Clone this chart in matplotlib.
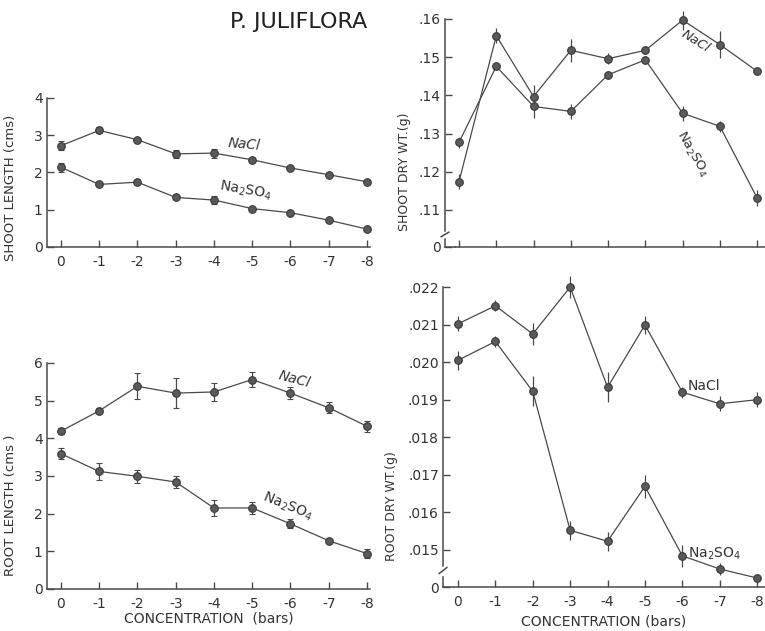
import matplotlib
matplotlib.use('Agg')
import matplotlib.pyplot as plt

# concentration (bars) - plotted at positions 0..8
conc_labels = ['0', '-1', '-2', '-3', '-4', '-5', '-6', '-7', '-8']

# shoot length (cms)
shoot_len_nacl = [2.72, 3.13, 2.88, 2.50, 2.52, 2.34, 2.12, 1.94, 1.75]
shoot_len_nacl_err = [0.12, 0.08, 0.03, 0.10, 0.12, 0.04, 0.03, 0.03, 0.03]
shoot_len_na2so4 = [2.14, 1.68, 1.74, 1.33, 1.26, 1.03, 0.92, 0.72, 0.48]
shoot_len_na2so4_err = [0.12, 0.03, 0.03, 0.04, 0.10, 0.03, 0.03, 0.03, 0.03]

# root length (cms)
root_len_nacl = [4.19, 4.73, 5.38, 5.20, 5.23, 5.56, 5.20, 4.81, 4.32]
root_len_nacl_err = [0.08, 0.07, 0.35, 0.40, 0.25, 0.20, 0.15, 0.15, 0.15]
root_len_na2so4 = [3.59, 3.12, 2.99, 2.84, 2.15, 2.15, 1.73, 1.28, 0.94]
root_len_na2so4_err = [0.15, 0.22, 0.18, 0.15, 0.20, 0.15, 0.12, 0.05, 0.12]

# shoot dry weight (g)
shoot_wt_nacl = [.1174, .1556, .1397, .1518, .1496, .1518, .1597, .1533, .1463]
shoot_wt_nacl_err = [.0020, .0020, .0030, .0030, .0015, .0010, .0025, .0035, .0010]
shoot_wt_na2so4 = [.1277, .1476, .1371, .1358, .1454, .1493, .1353, .1319, .1131]
shoot_wt_na2so4_err = [.0015, .0010, .0030, .0020, .0010, .0010, .0020, .0015, .0020]

# root dry weight (g)
root_wt_nacl = [.02102, .02150, .02075, .02200, .01933, .02099, .01920, .01889, .01900]
root_wt_nacl_err = [.00020, .00015, .00030, .00030, .00040, .00025, .00015, .00020, .00020]
root_wt_na2so4 = [.02005, .02055, .01922, .01552, .01523, .01669, .01484, .01449, .01425]
root_wt_na2so4_err = [.00025, .00015, .00040, .00025, .00025, .00030, .00030, .00015, .00005]

ink = '#4a4a4a'
txt = '#333333'
x = list(range(len(conc_labels)))

plt.rcParams['font.family'] = 'DejaVu Sans'

fig = plt.figure(figsize=(7.65, 6.31), dpi=100)


def draw_series(ax, y, err, caps):
    ax.errorbar(x, y, yerr=err, color=ink, lw=0.9, elinewidth=0.9,
                capsize=2 if caps else 0, marker='o', ms=5.5,
                mfc='#5a5a5a', mec='#3a3a3a', mew=0.8, clip_on=False, zorder=3)


def style_axes(ax, xlim, ylim, yticks, yticklabels, show_xlabels, broken):
    ax.set_xlim(*xlim)
    ax.set_ylim(*ylim)
    ax.spines['top'].set_visible(False)
    ax.spines['right'].set_visible(False)
    for s in ('left', 'bottom'):
        ax.spines[s].set_color(ink)
        ax.spines[s].set_linewidth(1.1)
    ax.set_xticks(x)
    if show_xlabels:
        ax.set_xticklabels(conc_labels)
    else:
        ax.set_xticklabels([])
    ax.set_yticks(yticks)
    ax.set_yticklabels(yticklabels)
    ax.tick_params(direction='in', length=5, width=1, colors=ink,
                   labelcolor=txt, labelsize=10, pad=3)
    ax.tick_params(axis='x', pad=6)
    if broken:
        ax.spines['bottom'].set_bounds(-0.1, xlim[1])
        ax.spines['left'].set_bounds(ylim[0] + (ylim[1] - ylim[0]) * 0.07, ylim[1])
        # small break mark on the y axis
        ax.plot([0, 0.0], [0.0, 0.035], transform=ax.transAxes, color=ink,
                lw=1.1, clip_on=False)
        ax.plot([-0.012, 0.012], [0.045, 0.065], transform=ax.transAxes,
                color=ink, lw=1.1, clip_on=False)
        ax.plot([0, 0.03], [0.0, 0.0], transform=ax.transAxes, color=ink,
                lw=1.1, clip_on=False)


# shoot length
ax1 = fig.add_axes([0.0614, 0.6086, 0.4222, 0.2361])
draw_series(ax1, shoot_len_nacl, shoot_len_nacl_err, True)
draw_series(ax1, shoot_len_na2so4, shoot_len_na2so4_err, True)
style_axes(ax1, (-0.366, 8.078), (0, 4), [0, 1, 2, 3, 4],
           ['0', '1', '2', '3', '4'], True, False)
ax1.set_ylabel('SHOOT LENGTH (cms)', color=txt, fontsize=9.5)
ax1.yaxis.set_label_coords(-0.092, 0.40)
ax1.text(4.35, 2.62, 'NaCl', color=txt, fontsize=10, style='italic',
         rotation=-5)
ax1.text(4.1, 1.30, r'Na$_2$SO$_4$', color=txt, fontsize=10, rotation=-10)

# root length
ax2 = fig.add_axes([0.0614, 0.0666, 0.4222, 0.3582])
draw_series(ax2, root_len_nacl, root_len_nacl_err, True)
draw_series(ax2, root_len_na2so4, root_len_na2so4_err, True)
style_axes(ax2, (-0.366, 8.078), (0, 6), [0, 1, 2, 3, 4, 5, 6],
           ['0', '1', '2', '3', '4', '5', '6'], True, False)
ax2.set_ylabel('ROOT LENGTH (cms )', color=txt, fontsize=9.5)
ax2.yaxis.set_label_coords(-0.092, 0.37)
ax2.set_xlabel('CONCENTRATION  (bars)', color=txt, fontsize=10, labelpad=0)
ax2.text(5.65, 5.35, 'NaCl', color=txt, fontsize=10, style='italic',
         rotation=-15)
ax2.text(5.2, 1.85, r'Na$_2$SO$_4$', color=txt, fontsize=10, rotation=-22)

# shoot dry weight
ax3 = fig.add_axes([0.5817, 0.6086, 0.4183, 0.3613])
draw_series(ax3, shoot_wt_nacl, shoot_wt_nacl_err, False)
draw_series(ax3, shoot_wt_na2so4, shoot_wt_na2so4_err, False)
style_axes(ax3, (-0.376, 8.21), (.1003, .16),
           [.1003, .11, .12, .13, .14, .15, .16],
           ['0', '.11', '.12', '.13', '.14', '.15', '.16'], False, True)
ax3.set_ylabel('SHOOT DRY WT.(g)', color=txt, fontsize=9)
ax3.yaxis.set_label_coords(-0.105, 0.33)
ax3.text(5.9, .1515, 'NaCl', color=txt, fontsize=9.5, style='italic',
         rotation=-32)
ax3.text(5.75, .1190, r'Na$_2$SO$_4$', color=txt, fontsize=9.5, rotation=-60)

# root dry weight
ax4 = fig.add_axes([0.5791, 0.0697, 0.4209, 0.4754])
draw_series(ax4, root_wt_nacl, root_wt_nacl_err, False)
draw_series(ax4, root_wt_na2so4, root_wt_na2so4_err, False)
style_axes(ax4, (-0.40, 8.21), (.01401, .022),
           [.01401, .015, .016, .017, .018, .019, .020, .021, .022],
           ['0', '.015', '.016', '.017', '.018', '.019', '.020', '.021',
            '.022'], True, True)
ax4.set_ylabel('ROOT DRY WT.(g)', color=txt, fontsize=9)
ax4.yaxis.set_label_coords(-0.14, 0.27)
ax4.set_xlabel('CONCENTRATION (bars)', color=txt, fontsize=10, labelpad=4)
ax4.text(6.15, .01925, 'NaCl', color=txt, fontsize=10)
ax4.text(6.15, .01480, r'Na$_2$SO$_4$', color=txt, fontsize=10)

fig.text(0.39, 0.965, 'P. JULIFLORA', color='#222222', fontsize=16,
         ha='center', va='center')

fig.savefig('out.png', dpi=100)
